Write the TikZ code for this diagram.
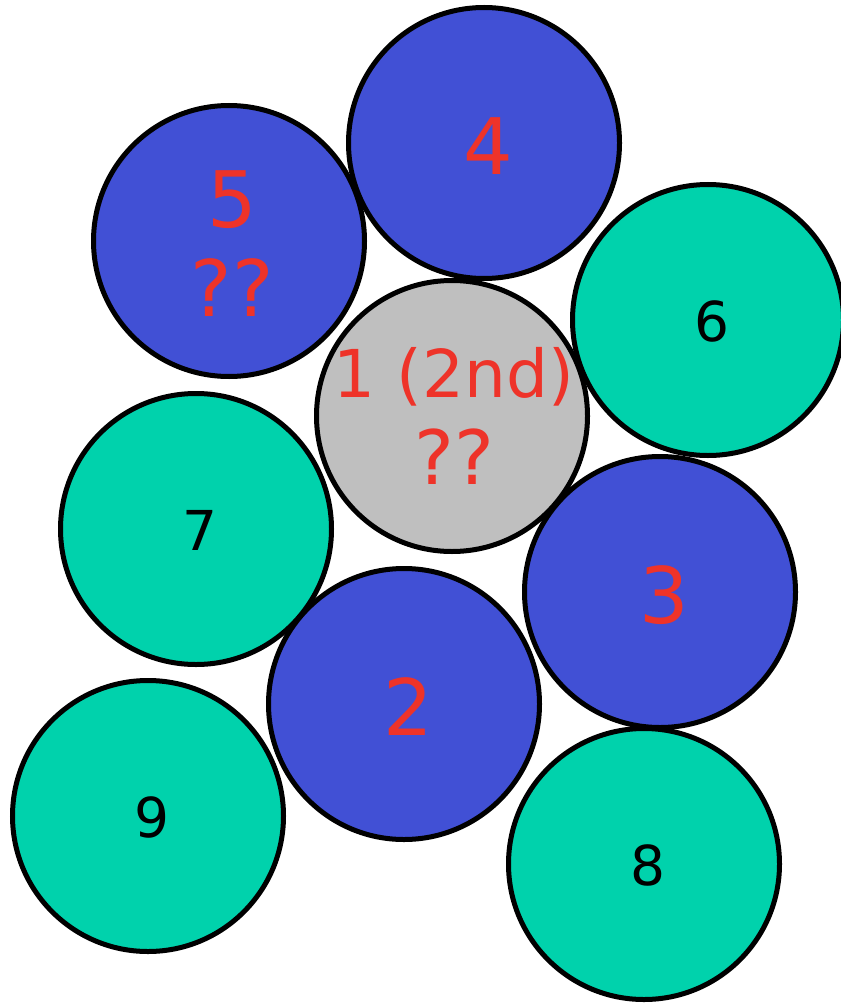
\documentclass[tikz,border=0pt]{standalone}
\usepackage{fontspec}
\setmainfont{DejaVu Sans}
\usetikzlibrary{positioning}
\definecolor{ballblue}{RGB}{65,80,213}
\definecolor{ballgreen}{RGB}{0,210,172}
\definecolor{ballgray}{RGB}{191,191,191}
\definecolor{numred}{RGB}{238,51,41}
\tikzset{
  ball/.style={circle, draw=black, line width=5pt,
    minimum size=271pt, inner sep=0pt},
  ballB/.style={ball, fill=ballblue},
  ballG/.style={ball, fill=ballgreen},
  ballC/.style={ball, fill=ballgray},
  numR/.style={text=numred, align=center, inner sep=0pt,
    font=\fontsize{78pt}{89pt}\selectfont},
  numK/.style={text=black, inner sep=0pt,
    font=\fontsize{55pt}{66pt}\selectfont},
}

\begin{document}
\begin{tikzpicture}[x=1pt, y=-1pt]
  \useasboundingbox (0,0) rectangle (840,1003);

  % balls
  \node[ballB] (c4) at (484,143) {};
  \node[ballB] (c5) at (229,241) {};
  \node[ballG] (c6) at (708,320) {};
  \node[ballC] (c1) at (452,416) {};
  \node[ballG] (c7) at (196,529) {};
  \node[ballB] (c3) at (660,592) {};
  \node[ballB] (c2) at (404,704) {};
  \node[ballG] (c9) at (148,816) {};
  \node[ballG] (c8) at (644,864) {};

  % labels
  \node[numR, xshift=4pt, yshift=-3pt] (t4) at (c4) {4};
  \node[numR, xshift=3pt, yshift=-2.5pt] (t5) at (c5) {5\\??};
  \node[numK, xshift=4pt, yshift=-1pt] (t6) at (c6) {6};
  \node[numR, font=\fontsize{75pt}{87pt}\selectfont, xshift=2pt] (t1) at (c1)
       {{\fontsize{66pt}{87pt}\selectfont 1 (2nd)}\\??};
  \node[numK, xshift=4pt, yshift=-1pt] (t7) at (c7) {7};
  \node[numR, xshift=4pt, yshift=-3pt] (t3) at (c3) {3};
  \node[numR, xshift=4pt, yshift=-3pt] (t2) at (c2) {2};
  \node[numK, xshift=4pt, yshift=-1pt] (t9) at (c9) {9};
  \node[numK, xshift=4pt, yshift=-1pt] (t8) at (c8) {8};
\end{tikzpicture}
\end{document}
